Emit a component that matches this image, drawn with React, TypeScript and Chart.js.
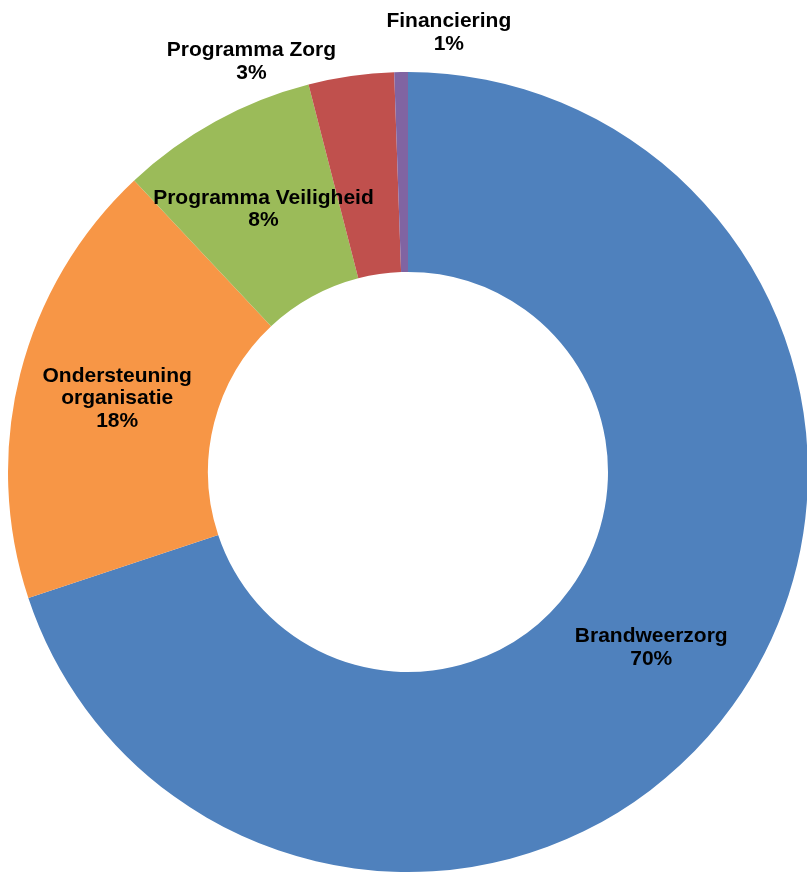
import React, { useEffect, useRef } from "react";
import { Chart, registerables } from "chart.js";

Chart.register(...registerables);

const categories = [
  "Brandweerzorg",
  "Ondersteuning organisatie",
  "Programma Veiligheid",
  "Programma Zorg",
  "Financiering",
];
const shares = [69.9, 18.1, 8.0, 3.45, 0.55];
const labelLines = [
  ["Brandweerzorg"],
  ["Ondersteuning", "organisatie"],
  ["Programma Veiligheid"],
  ["Programma Zorg"],
  ["Financiering"],
];
const colors = ["#4F81BD", "#F79646", "#9BBB59", "#C0504D", "#8064A2"];

// label placement: null = centre of the ring segment; otherwise outside the ring
const labelPlacement: ({ radiusFactor: number; angleShiftDeg: number } | null)[] = [
  null,
  null,
  null,
  { radiusFactor: 1.0975, angleShiftDeg: -12.7 },
  { radiusFactor: 1.1025, angleShiftDeg: 6.3 },
];

const labelPlugin = {
  id: "sliceLabels",
  afterDatasetsDraw(chart: any) {
    const ctx = chart.ctx;
    const meta = chart.getDatasetMeta(0);
    const total = shares.reduce((a, b) => a + b, 0);
    ctx.save();
    ctx.font = 'bold 21px "Liberation Sans", Arial, sans-serif';
    ctx.fillStyle = "#000000";
    ctx.textAlign = "center";
    ctx.textBaseline = "middle";
    const lineH = 22.5;
    meta.data.forEach((arc: any, i: number) => {
      const p = arc.getProps(["x", "y", "startAngle", "endAngle", "innerRadius", "outerRadius"], true);
      const mid = (p.startAngle + p.endAngle) / 2;
      const pl = labelPlacement[i];
      let r: number, a: number;
      if (pl) {
        r = p.outerRadius * pl.radiusFactor;
        a = mid + (pl.angleShiftDeg * Math.PI) / 180;
      } else {
        r = (p.innerRadius + p.outerRadius) / 2;
        a = mid;
      }
      const cx = p.x + Math.cos(a) * r;
      const cy = p.y + Math.sin(a) * r;
      const pct = Math.round((shares[i] / total) * 100) + "%";
      const lines = [...labelLines[i], pct];
      const startY = cy - ((lines.length - 1) * lineH) / 2;
      lines.forEach((t, k) => ctx.fillText(t, cx, startY + k * lineH));
    });
    ctx.restore();
  },
};

export default function App() {
  const ref = useRef<HTMLCanvasElement | null>(null);
  useEffect(() => {
    if (!ref.current) return;
    const chart = new Chart(ref.current, {
      type: "doughnut",
      data: {
        labels: categories,
        datasets: [
          {
            data: shares,
            backgroundColor: colors,
            borderWidth: 0,
            hoverOffset: 0,
          },
        ],
      },
      options: {
        responsive: false,
        animation: false,
        cutout: "50%",
        layout: { padding: { left: 8, top: 72, right: 0, bottom: 1 } },
        plugins: {
          legend: { display: false },
          tooltip: { enabled: false },
        },
      },
      plugins: [labelPlugin],
    });
    return () => chart.destroy();
  }, []);
  return (
    <div
      style={{
        position: "fixed",
        left: 0,
        top: 0,
        width: 807,
        height: 873,
        overflow: "hidden",
        background: "#ffffff",
      }}
    >
      <canvas ref={ref} width={808} height={873} style={{ display: "block" }} />
    </div>
  );
}
